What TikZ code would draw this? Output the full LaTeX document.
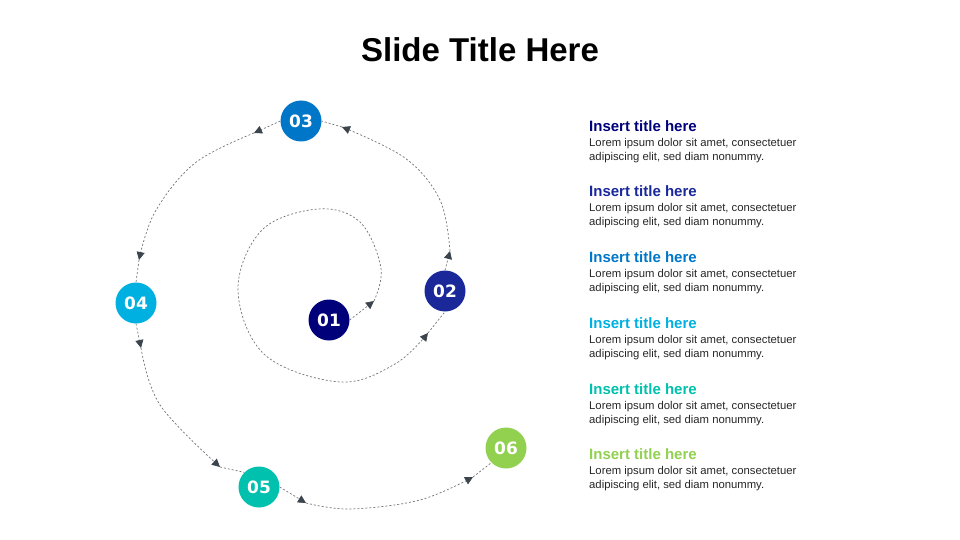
\documentclass[tikz,border=0pt]{standalone}
\usepackage{fontspec}
\setmainfont{Liberation Sans}
\newfontfamily\numfont{DejaVu Sans}
\usetikzlibrary{arrows.meta}
\definecolor{cA}{RGB}{0,0,122}
\definecolor{cB}{RGB}{26,40,154}
\definecolor{cC}{RGB}{0,118,200}
\definecolor{cD}{RGB}{0,176,224}
\definecolor{cE}{RGB}{0,192,174}
\definecolor{cF}{RGB}{146,208,80}
\definecolor{arr}{RGB}{60,68,78}
\begin{document}
\begin{tikzpicture}[x=1pt,y=-1pt,
  num/.style={circle,minimum size=41pt,inner sep=0pt,text=white,font=\numfont\bfseries\fontsize{17}{17}\selectfont},
  link/.style={draw=gray!90!black,dashed,dash pattern=on 2pt off 2pt,line width=0.7pt},
  tip/.style={link,-{Triangle[length=8pt,width=8pt,fill=arr,color=arr]}},
  ttl/.style={anchor=west,inner sep=0pt,font=\bfseries\fontsize{15}{15}\selectfont},
  body/.style={anchor=north west,inner sep=0pt,align=left,text=black!85,font=\fontsize{11.3}{14}\selectfont}]
\useasboundingbox (0,0) rectangle (960,540);
\node[font=\bfseries\fontsize{33}{33}\selectfont] (title) at (480,50) {Slide Title Here};
\node[num,fill=cA] (n1) at (329,320) {01};
\node[num,fill=cB] (n2) at (445,291) {02};
\node[num,fill=cC] (n3) at (301,121) {03};
\node[num,fill=cD] (n4) at (136,303) {04};
\node[num,fill=cE] (n5) at (259,487) {05};
\node[num,fill=cF] (n6) at (506,448) {06};
% 01 -> 02
\coordinate (a1) at (374,301); \coordinate (a2) at (428,333);
\draw[tip] (n1.east) -- (a1);
\draw[tip] plot[smooth,tension=0.6] coordinates {(a1) (381,268) (360,222) (318,209) (262,230) (238,290) (265,355) (340,382) (395,364) (a2)};
\draw[link] (a2) -- (n2.south);
% 02 -> 03
\coordinate (b1) at (450,251); \coordinate (b2) at (342,127);
\draw[tip] (n2.north) -- (b1);
\draw[tip] plot[smooth,tension=0.6] coordinates {(450,251) (440,200) (405,158) (342,127)};
\draw[link] (b2) -- (n3.east);
% 03 -> 04
\coordinate (c1) at (254,133); \coordinate (c2) at (139,260);
\draw[tip] (n3.west) -- (c1);
\draw[tip] plot[smooth,tension=0.6] coordinates {(254,133) (195,163) (155,212) (139,260)};
\draw[link] (c2) -- (n4.north);
% 04 -> 05
\coordinate (d1) at (141,348); \coordinate (d2) at (220,467);
\draw[tip] (n4.south) -- (d1);
\draw[tip] plot[smooth,tension=0.6] coordinates {(141,348) (160,405) (220,467)};
\draw[link] (d2) -- (n5.north west);
% 05 -> 06
\coordinate (e1) at (306,503); \coordinate (e2) at (473,477);
\draw[tip] (n5.east) -- (e1);
\draw[tip] plot[smooth,tension=0.6] coordinates {(306,503) (350,509) (420,500) (473,477)};
\draw[link] (e2) -- (n6.south west);
% text
\foreach \y/\c/\i in {126/cA/1,191/cB/2,257/cC/3,323/cD/4,389/cE/5,454/cF/6}{
  \node[ttl,text=\c] (t\i) at (589,\y) {Insert title here};
  \node[body] (b\i) at (589,\y+12) {Lorem ipsum dolor sit amet, consectetuer\\adipiscing elit, sed diam nonummy.};
}
\end{tikzpicture}
\end{document}
